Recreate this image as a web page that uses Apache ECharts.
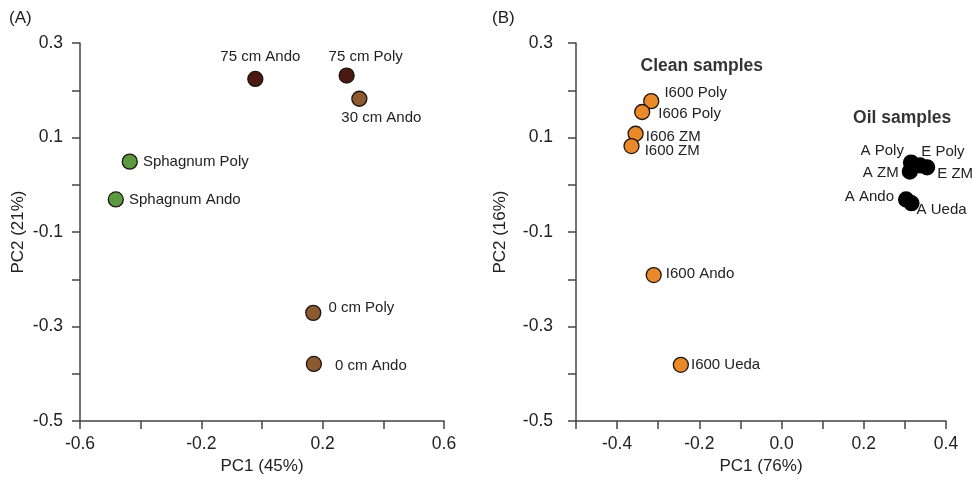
<!DOCTYPE html>
<html>
<head>
<meta charset="utf-8">
<script src="https://cdn.jsdelivr.net/npm/echarts@6/dist/echarts.min.js"></script>
<style>html,body{margin:0;padding:0;background:#fff}#c{width:972px;height:480px}</style>
</head>
<body>
<div id="c"></div>
<script>
// ---------- Panel A data ----------
const samplesA = ['75 cm Ando','75 cm Poly','30 cm Ando','Sphagnum Poly','Sphagnum Ando','0 cm Poly','0 cm Ando'];
const pc1A = [-0.022, 0.279, 0.321, -0.436, -0.482, 0.169, 0.171];
const pc2A = [0.224, 0.231, 0.182, 0.049, -0.031, -0.271, -0.379];
const groupA = ['75 cm','75 cm','30 cm','Sphagnum','Sphagnum','0 cm','0 cm'];

// ---------- Panel B data ----------
const samplesB = ['I600 Poly','I606 Poly','I606 ZM','I600 ZM','I600 Ando','I600 Ueda','A Poly','E Poly','A ZM','E ZM','A Ando','A Ueda'];
const pc1B = [-0.317, -0.339, -0.355, -0.365, -0.311, -0.245, 0.315, 0.337, 0.312, 0.354, 0.303, 0.316];
const pc2B = [0.177, 0.154, 0.108, 0.082, -0.191, -0.381, 0.047, 0.041, 0.028, 0.037, -0.031, -0.039];
const groupB = ['Clean','Clean','Clean','Clean','Clean','Clean','Oil','Oil','Oil','Oil','Oil','Oil'];

// annotations (panel B)
const annotText = ['Clean samples', 'Oil samples'];
const annotX = [-0.194, 0.2935];
const annotY = [0.250, 0.1415];

// axis tick labels
const yTicks = ['0.3','0.1','-0.1','-0.3','-0.5'];
const xTicksA = ['-0.6','-0.2','0.2','0.6'];
const xTicksB = ['-0.4','-0.2','0.0','0.2','0.4'];

// ---------- styling ----------
const FONT = '"Liberation Sans", Arial, Helvetica, sans-serif';
const TXT = '#222';
const AX = '#444';
const colors = {'75 cm':'#4a1a12','30 cm':'#8b5a2e','Sphagnum':'#5c9a40','0 cm':'#8b5a2e','Clean':'#e98a2a','Oil':'#000000'};
const labelLayout = {
  '75 cm Ando':['top',[5,-1]],
  '75 cm Poly':['top',[19,2]],
  '30 cm Ando':['bottom',[22,-2]],
  'Sphagnum Poly':['right',[0,0]],
  'Sphagnum Ando':['right',[0,0]],
  '0 cm Poly':['right',[2,-5]],
  '0 cm Ando':['right',[8,2]],
  'I600 Poly':['right',[0,-8]],
  'I606 Poly':['right',[3,2]],
  'I606 ZM':['right',[-3,3]],
  'I600 ZM':['right',[0,5]],
  'I600 Ando':['right',[-1,-1]],
  'I600 Ueda':['right',[-3,0]],
  'A Poly':['left',[6,-12]],
  'E Poly':['right',[-12,-14]],
  'A ZM':['left',[2,1]],
  'E ZM':['right',[-3,7]],
  'A Ando':['left',[1,-3]],
  'A Ueda':['right',[-8,7]]
};

function fmt(v){ let r = Math.round(v*10)/10; if (Math.abs(r) < 1e-9) r = 0; return r.toFixed(1); }
function tickFormatter(list){ return function(v){ const s = fmt(v); return list.indexOf(s) >= 0 ? s : ''; }; }

function buildSeries(names, xs, ys, groups, axisIdx){
  const order = [];
  groups.forEach(g => { if (order.indexOf(g) < 0) order.push(g); });
  return order.map(g => {
    const data = [];
    names.forEach((n, i) => {
      if (groups[i] !== g) return;
      const ll = labelLayout[n];
      data.push({ name: n, value: [xs[i], ys[i]], label: { position: ll[0], offset: ll[1] } });
    });
    return {
      type: 'scatter', xAxisIndex: axisIdx, yAxisIndex: axisIdx,
      symbol: 'circle', symbolSize: 15,
      itemStyle: { color: colors[g], borderColor: g === 'Oil' ? '#000' : '#1e1410', borderWidth: 1.3, opacity: 1 },
      label: { show: true, formatter: '{b}', color: TXT, fontSize: 15, fontFamily: FONT, distance: 5 },
      emphasis: { disabled: true },
      data: data
    };
  });
}

function axisCommon(){
  return {
    axisLine: { show: true, onZero: false, lineStyle: { color: AX, width: 1.5 } },
    axisTick: { show: true, length: 8, inside: false, lineStyle: { color: AX, width: 1.5 } },
    splitLine: { show: false },
    nameLocation: 'middle',
    nameTextStyle: { fontSize: 17, color: TXT, fontFamily: FONT }
  };
}

const series = [].concat(
  buildSeries(samplesA, pc1A, pc2A, groupA, 0),
  buildSeries(samplesB, pc1B, pc2B, groupB, 1),
  [{
    type: 'scatter', xAxisIndex: 1, yAxisIndex: 1, symbolSize: 1,
    itemStyle: { color: 'rgba(255,255,255,0)' },
    emphasis: { disabled: true }, silent: true,
    label: { show: true, position: 'inside', formatter: '{b}', color: '#000', textBorderWidth: 0, fontSize: 17.5, fontWeight: 'bold', fontFamily: FONT },
    data: annotText.map((t, i) => ({ name: t, value: [annotX[i], annotY[i]] }))
  }]
);

const option = {
  animation: false,
  backgroundColor: '#fff',
  textStyle: { fontFamily: FONT },
  graphic: [
    { type: 'text', left: 9, top: 10, style: { text: '(A)', fontSize: 17, fill: TXT, fontFamily: FONT } },
    { type: 'text', left: 492, top: 10, style: { text: '(B)', fontSize: 17, fill: TXT, fontFamily: FONT } }
  ],
  grid: [
    { left: 80, top: 43, width: 364, height: 380 },
    { left: 576, top: 43, width: 370, height: 380 }
  ],
  xAxis: [
    Object.assign(axisCommon(), { gridIndex: 0, type: 'value', min: -0.6, max: 0.6, interval: 0.2, name: 'PC1 (45%)', nameGap: 36,
      axisLabel: { formatter: tickFormatter(xTicksA), fontSize: 17.5, color: TXT, fontFamily: FONT, margin: 14, showMinLabel: true, showMaxLabel: true } }),
    Object.assign(axisCommon(), { gridIndex: 1, type: 'value', min: -0.5, max: 0.4, interval: 0.1, name: 'PC1 (76%)', nameGap: 36,
      axisLabel: { formatter: tickFormatter(xTicksB), fontSize: 17.5, color: TXT, fontFamily: FONT, margin: 14, showMinLabel: true, showMaxLabel: true } })
  ],
  yAxis: [
    Object.assign(axisCommon(), { gridIndex: 0, type: 'value', min: -0.5, max: 0.3, interval: 0.1, name: 'PC2 (21%)', nameGap: 53,
      axisLabel: { formatter: tickFormatter(yTicks), fontSize: 17.5, color: TXT, fontFamily: FONT, margin: 17, showMinLabel: true, showMaxLabel: true } }),
    Object.assign(axisCommon(), { gridIndex: 1, type: 'value', min: -0.5, max: 0.3, interval: 0.1, name: 'PC2 (16%)', nameGap: 67,
      axisLabel: { formatter: tickFormatter(yTicks), fontSize: 17.5, color: TXT, fontFamily: FONT, margin: 23, showMinLabel: true, showMaxLabel: true } })
  ],
  series: series
};

const chart = echarts.init(document.getElementById('c'), null, { renderer: 'canvas' });
chart.setOption(option);
</script>
</body>
</html>
